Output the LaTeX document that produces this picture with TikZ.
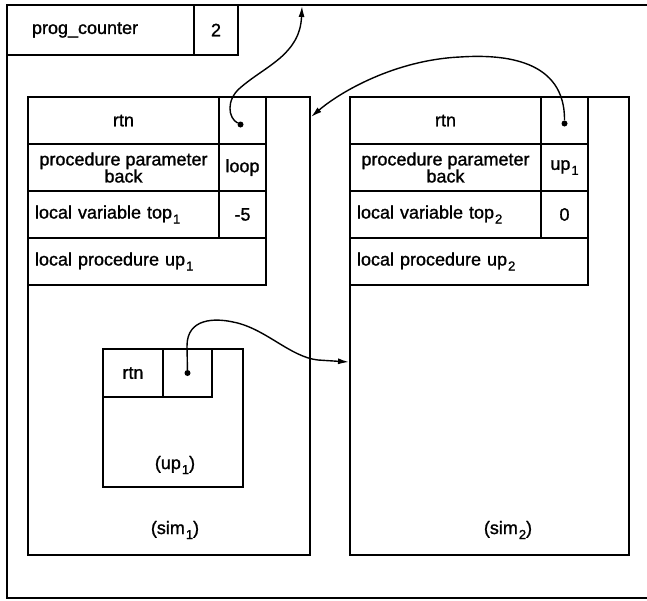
\documentclass[tikz,border=0pt]{standalone}
\usepackage{fontspec}
\setmainfont{Liberation Sans}
\newfontfamily\hand[FakeBold=1.2]{Liberation Sans}
\usetikzlibrary{arrows.meta, calc}
\newcommand\lbl{\hand\fontsize{18}{17}\selectfont}
\newcommand\idx[1]{\kern1pt\raisebox{-5pt}{\fontsize{13}{13}\selectfont #1}}

\begin{document}
\begin{tikzpicture}[
    x=1pt, y=-1pt,
    box/.style={draw, line width=1.8pt, anchor=north west, inner sep=0pt, outer sep=0pt},
    cell/.style={box, minimum height=47pt, font=\lbl, align=center},
    lcell/.style={cell, align=left, text width=#1, inner xsep=7pt},
    txt/.style={font=\lbl},
    ptr/.style={circle, fill, inner sep=0pt, minimum size=6pt},
    link/.style={line width=1.4pt, -{Latex[length=11pt, width=6pt]}}
]
    \useasboundingbox (0,0) rectangle (647,600);

    % outer frame and program counter
    \draw[line width=1.8pt] (647,5) -- (7,5) -- (7,598) -- (647,598);
    \node[lcell=137pt, inner xsep=25pt, minimum height=50pt] (pc) at (7,5) {prog\_counter};
    \node[cell, minimum width=44pt, minimum height=50pt] (pcval) at (pc.north east) {2};
    \coordinate (pctop) at (302,6);

    % activation records
    \node[box, minimum width=282pt, minimum height=458pt] (sim1) at (28,97) {};
    \node[box, minimum width=279pt, minimum height=458pt] (sim2) at (350,97) {};

    \foreach \s/\pv/\val in {1/loop/-5, 2/{up\idx{1}}/0} {
        \node[cell, minimum width=191pt] (rtn\s) at (sim\s.north west) {rtn};
        \node[cell, minimum width=47pt] (ret\s) at (rtn\s.north east) {};
        \node[cell, minimum width=191pt] (parm\s) at (rtn\s.south west) {procedure parameter\\back};
        \node[cell, minimum width=47pt] (arg\s) at (parm\s.north east) {\pv};
        \node[lcell=177pt] (var\s) at (parm\s.south west) {local variable top\idx{\s}};
        \node[cell, minimum width=47pt] (val\s) at (var\s.north east) {\val};
        \node[lcell=224pt] (proc\s) at (var\s.south west) {local procedure up\idx{\s}};
    }
    \node[ptr] (dot1) at ($(ret1.center)+(-2,4)$) {};
    \node[ptr] (dot2) at ($(ret2.center)+(0,3)$) {};

    \node[txt] (sim1lbl) at (175,530) {(sim\idx{1})};
    \node[txt] (sim2lbl) at (508,530) {(sim\idx{2})};

    % record of up1 inside sim1
    \node[box, minimum width=140pt, minimum height=138pt] (up) at (103,349) {};
    \node[cell, minimum width=60pt, minimum height=48pt] (uprtn) at (up.north west) {rtn};
    \node[cell, minimum width=49pt, minimum height=48pt] (upret) at (uprtn.north east) {};
    \node[ptr] (dot3) at (upret.center) {};
    \node[txt] (uplbl) at (175,465) {(up\idx{1})};

    % return links
    \coordinate (back1) at ($(sim1.north east)+(1,20)$);
    \coordinate (back2) at ($(sim2.north west)+(-1,265)$);
    \draw[link] (dot1) .. controls (228,118) and (226,100) .. (240,88)
        .. controls (265,66) and (300,55) .. (pctop);
    \draw[link] (dot2) .. controls (565,60) and (505,54) .. (460,57)
        .. controls (395,60) and (340,92) .. (back1);
    \draw[link] (dot3) -- (187,346) .. controls (187,318) and (215,318) .. (233,322)
        .. controls (265,328) and (290,357) .. (318,360) -- (back2);
\end{tikzpicture}
\end{document}
